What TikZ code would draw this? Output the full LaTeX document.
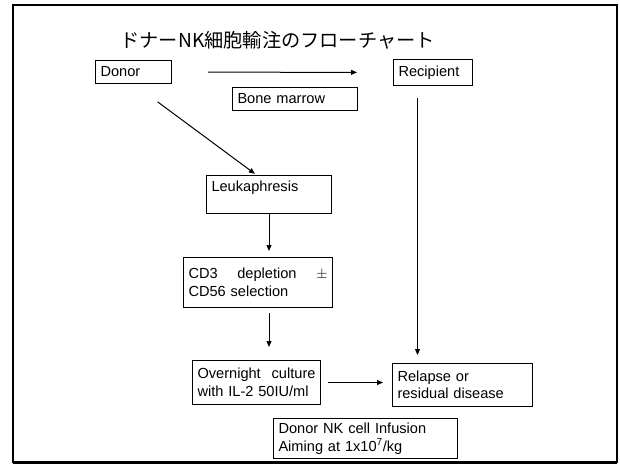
\documentclass[tikz,border=0pt]{standalone}
\usepackage{fontspec}
\setmainfont{Liberation Sans}
\newfontfamily\jpfont{Noto Sans CJK JP}
\usepackage{tikz}
\usetikzlibrary{arrows.meta, calc, positioning}

\tikzset{
  flowbox/.style={draw, line width=1pt, anchor=north west, align=left,
    inner xsep=5pt, inner ysep=3pt, font=\fontsize{14.6}{17.5}\selectfont},
  flowarr/.style={-{Triangle[length=6pt, width=5pt]}, line width=1pt},
}

\begin{document}
\begin{tikzpicture}[x=1pt, y=-1pt]
\useasboundingbox (0,0) rectangle (620,464);
% outer frame
\draw[line width=2pt] (13,5) rectangle (617,462);
\draw[line width=3pt] (13,462) -- (617,462);
\node[font=\jpfont\fontsize{19.2}{21}\selectfont, anchor=west] (title) at (117,40)
    {ドナーNK細胞輸注のフローチャート};
% boxes
\node[flowbox, text width=66pt, minimum height=23pt] (donor) at (95,60) {Donor};
\node[flowbox, text width=69pt, minimum height=26pt] (recip) at (393,59) {Recipient};
\node[flowbox, text width=115pt, minimum height=23pt] (bone) at (232,87) {Bone marrow};
\node[flowbox, text width=115pt, text height=13pt, text depth=19pt] (leuk) at (206,175)
    {Leukaphresis};
\node[flowbox, text width=139pt, minimum height=50pt] (cd3) at (183,257)
    {CD3\hfill depletion\hfill $\pm$\\CD56 selection};
\node[flowbox, text width=118pt, minimum height=44pt] (night) at (192,360)
    {Overnight\hfill culture\\with IL-2 50IU/ml};
\node[flowbox, text width=130pt, minimum height=43pt] (relapse) at (392,363)
    {Relapse or\\residual disease};
\node[flowbox, text width=174pt, minimum height=40pt] (infuse) at (273,418)
    {Donor NK cell Infusion\\Aiming at 1x10\textsuperscript{7}/kg};
% arrows
\draw[flowarr, shorten <=36pt, shorten >=36pt] (donor) -- (recip);
\draw[flowarr, shorten <=30pt, shorten >=2pt] (donor.south) -- ([xshift=-12.5pt]leuk.north);
\draw[flowarr, shorten >=6pt] (leuk.south) -- (leuk.south |- cd3.north);
\draw[flowarr, shorten <=5pt, shorten >=13pt] (leuk.south |- cd3.south) -- (leuk.south |- night.north);
\draw[flowarr, shorten <=12pt, shorten >=8pt] ([xshift=-15.5pt]recip.south)
    -- ([xshift=-15.5pt]recip.south |- relapse.north);
\draw[flowarr, shorten <=7pt, shorten >=9pt] (night.east) -- (night.east -| relapse.west);
\end{tikzpicture}
\end{document}
